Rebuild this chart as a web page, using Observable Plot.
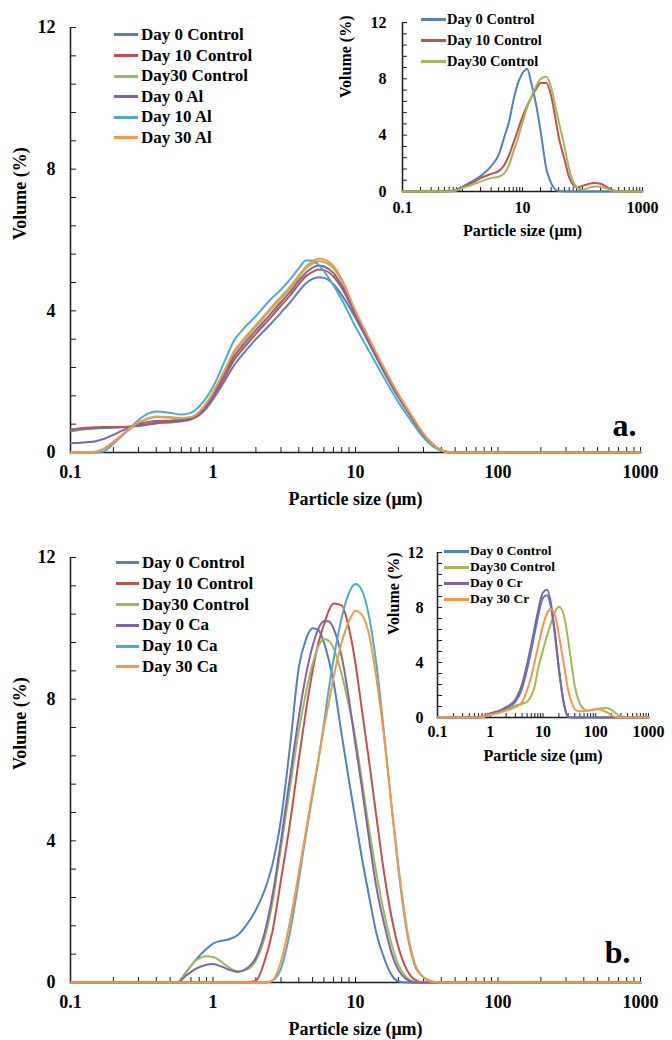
<!DOCTYPE html>
<html><head><meta charset="utf-8">
<script src="https://cdn.jsdelivr.net/npm/d3@7"></script>
<script src="https://cdn.jsdelivr.net/npm/@observablehq/plot@0.6"></script>
<style>
body{margin:0;background:#fff;}
#root{position:relative;width:672px;height:1040px;overflow:hidden;font-family:"Liberation Serif","Times New Roman",serif;font-weight:bold;color:#000;background:#fff;}
.panel{position:absolute;}
.panel svg{overflow:visible;background:transparent;}
.legend{position:absolute;font-family:"Liberation Serif","Times New Roman",serif;font-weight:bold;}
.legend .row{display:flex;align-items:center;white-space:nowrap;}
.legend .sw{display:inline-block;flex:none;}
</style></head><body><div id="root"></div>
<script>
// ---------- tick labels ----------
const yTickLabels = [0, 4, 8, 12];
const xTickLabelsMain = [0.1, 1, 10, 100, 1000];
const xTickLabelsInsetA = [0.1, 10, 1000];
const xTickLabelsInsetB = [0.1, 1, 10, 100, 1000];
const xTitle = "Particle size (μm)";
const yTitle = "Volume (%)";

// ---------- panel a (main) ----------
const sizesA = [0.1, 0.13, 0.15, 0.17, 0.2, 0.25, 0.3, 0.35, 0.4, 0.5, 0.6, 0.7, 0.8, 0.9, 1, 1.2, 1.4, 1.6, 2, 2.5, 3, 3.5, 4, 4.5, 5, 5.5, 6, 7, 8, 10, 12, 15, 20, 25, 30, 35, 40, 45, 50, 1000];
const namesA = ["Day 0 Control", "Day 10 Control", "Day30 Control", "Day 0 Al", "Day 10 Al", "Day 30 Al"];
const aDay0Control  = [0.6,0.66,0.68,0.69,0.7,0.72,0.75,0.79,0.82,0.85,0.88,0.93,1.05,1.25,1.5,2.0,2.45,2.75,3.2,3.6,3.95,4.25,4.55,4.78,4.9,4.95,4.93,4.75,4.45,3.8,3.2,2.45,1.55,0.95,0.48,0.2,0.06,0.01,0,0];
const aDay10Control = [0.65,0.7,0.71,0.72,0.72,0.73,0.76,0.8,0.84,0.87,0.9,0.95,1.08,1.3,1.58,2.1,2.6,2.9,3.35,3.78,4.15,4.45,4.75,4.98,5.1,5.17,5.15,4.97,4.65,3.88,3.25,2.5,1.6,0.98,0.5,0.21,0.06,0.01,0,0];
const aDay30Control = [0,0,0.02,0.1,0.3,0.6,0.83,0.95,1.0,0.98,0.95,0.98,1.13,1.37,1.67,2.27,2.8,3.1,3.55,4.0,4.35,4.65,4.95,5.2,5.33,5.4,5.38,5.2,4.85,3.95,3.3,2.55,1.62,1.0,0.52,0.22,0.07,0.01,0,0];
const aDay0Al       = [0.26,0.29,0.32,0.38,0.5,0.68,0.8,0.86,0.89,0.9,0.92,0.97,1.1,1.33,1.62,2.2,2.7,3.0,3.45,3.88,4.25,4.55,4.85,5.08,5.22,5.28,5.25,5.07,4.72,3.92,3.28,2.52,1.6,0.98,0.5,0.21,0.06,0.01,0,0];
const aDay10Al      = [0,0,0,0.03,0.25,0.62,0.92,1.1,1.16,1.12,1.07,1.12,1.3,1.55,1.85,2.55,3.15,3.45,3.85,4.3,4.6,4.9,5.2,5.42,5.42,5.3,5.12,4.72,4.32,3.55,2.98,2.28,1.42,0.85,0.42,0.17,0.05,0.01,0,0];
const aDay30Al      = [0,0,0.02,0.1,0.3,0.62,0.85,0.97,1.02,1.0,0.97,1.0,1.15,1.4,1.7,2.3,2.85,3.15,3.6,4.05,4.4,4.7,5.0,5.25,5.4,5.47,5.45,5.27,4.9,4.0,3.35,2.58,1.65,1.02,0.53,0.23,0.07,0.01,0,0];

// ---------- panel b (main) ----------
const sizesB = [0.1, 0.5, 0.56, 0.65, 0.75, 0.9, 1, 1.15, 1.3, 1.5, 1.7, 2, 2.3, 2.6, 3, 3.5, 4, 4.5, 5, 5.5, 6, 6.5, 7, 8, 9, 10, 11, 12.5, 14, 16, 18, 20, 23, 26, 30, 35, 40, 1000];
const namesB = ["Day 0 Control", "Day 10 Control", "Day30 Control", "Day 0 Ca", "Day 10 Ca", "Day 30 Ca"];
const bDay0Control  = [0,0,0,0.3,0.62,0.95,1.1,1.18,1.22,1.35,1.6,2.05,2.6,3.3,4.6,6.8,8.9,9.7,10.0,9.95,9.6,9.1,8.5,7.0,5.7,4.6,3.6,2.4,1.4,0.65,0.2,0.03,0,0,0,0,0,0];
const bDay10Control = [0,0,0,0,0,0,0,0,0,0,0,0.05,0.6,1.4,2.9,4.6,6.3,7.7,8.8,9.6,10.1,10.5,10.7,10.65,10.0,9.0,7.8,6.2,4.7,3.0,1.8,1.0,0.35,0.08,0,0,0,0];
const bDay30Control = [0,0,0,0.3,0.6,0.74,0.72,0.58,0.42,0.32,0.35,0.62,1.25,2.2,3.8,5.6,7.1,8.2,9.0,9.5,9.7,9.65,9.45,8.7,7.8,6.9,5.8,4.3,3.1,1.9,1.05,0.5,0.13,0.02,0,0,0,0];
const bDay0Ca       = [0,0,0,0.2,0.38,0.5,0.52,0.45,0.36,0.3,0.38,0.7,1.4,2.4,4.0,5.9,7.5,8.7,9.5,10.0,10.2,10.2,10.0,9.2,8.0,6.7,5.6,4.0,2.7,1.6,0.8,0.35,0.08,0,0,0,0,0];
const bDay10Ca      = [0,0,0,0,0,0,0,0,0,0,0,0,0,0.05,0.4,1.5,2.9,4.2,5.3,6.3,7.3,8.3,9.1,10.3,11.0,11.25,11.1,10.3,9.0,6.9,4.9,3.2,1.4,0.5,0.15,0.02,0,0];
const bDay30Ca      = [0,0,0,0,0,0,0,0,0,0,0,0,0,0.05,0.6,1.8,3.1,4.3,5.4,6.3,7.2,7.9,8.6,9.6,10.2,10.5,10.4,9.8,8.6,6.8,4.9,3.3,1.5,0.55,0.15,0.02,0,0];

// ---------- inset of panel a ----------
const sizesIA = [0.1, 0.5, 0.7, 1, 1.5, 2, 3, 4, 5, 6, 7, 8, 10, 12, 14, 17, 20, 25, 30, 35, 40, 50, 60, 80, 100, 130, 160, 200, 250, 300, 400, 1000];
const namesIA = ["Day 0 Control", "Day 10 Control", "Day30 Control"];
const iaDay0Control  = [0,0,0.05,0.35,0.75,1.1,1.8,2.6,3.9,5.0,6.4,7.4,8.4,8.7,7.7,6.1,4.3,1.6,0.6,0.15,0.03,0,0,0,0,0,0,0,0,0,0,0];
const iaDay10Control = [0,0,0.03,0.3,0.65,0.95,1.25,1.45,1.9,2.6,3.4,4.1,5.3,6.1,6.7,7.3,7.7,7.7,6.8,5.3,3.9,2.3,1.0,0.3,0.4,0.55,0.6,0.55,0.35,0.15,0,0];
const iaDay30Control = [0,0,0.02,0.25,0.5,0.7,0.95,1.05,1.3,1.9,2.8,3.5,4.9,6.0,6.7,7.5,8.0,8.15,7.4,6.1,5.0,3.2,1.6,0.3,0.12,0.28,0.35,0.33,0.22,0.08,0,0];

// ---------- inset of panel b ----------
const sizesIB = [0.1, 0.5, 0.65, 0.8, 1, 1.5, 2, 3, 4, 5, 6, 7, 8, 10, 12, 14, 17, 20, 25, 30, 35, 40, 50, 60, 70, 80, 100, 130, 160, 200, 250, 300, 1000];
const namesIB = ["Day 0 Control", "Day30 Control", "Day 0 Cr", "Day 30 Cr"];
const ibDay0Control  = [0,0,0,0.1,0.25,0.45,0.65,1.15,2.1,3.5,4.9,6.2,7.3,8.7,8.9,8.1,5.9,3.5,0.95,0.05,0,0,0,0,0,0,0,0,0,0,0,0,0];
const ibDay30Control = [0,0,0,0.08,0.2,0.38,0.55,0.85,1.0,1.15,1.6,2.3,3.5,4.9,6.0,6.8,7.7,8.05,7.4,5.6,3.8,2.3,1.0,0.6,0.5,0.52,0.6,0.68,0.7,0.55,0.25,0.05,0];
const ibDay0Cr       = [0,0,0,0.12,0.3,0.5,0.75,1.3,2.4,3.9,5.3,6.6,7.7,9.1,9.3,8.4,6.0,3.6,1.0,0.05,0,0,0,0,0,0,0,0,0,0,0,0,0];
const ibDay30Cr      = [0,0,0,0.1,0.2,0.35,0.5,0.75,1.1,2.0,3.0,4.1,5.1,6.7,7.6,7.9,7.4,6.0,3.8,2.0,1.1,0.6,0.45,0.45,0.5,0.55,0.6,0.55,0.4,0.15,0.02,0,0];

// ---------- styling ----------
const C = {blue:"#4F81BD", red:"#C0504D", green:"#9BBB59", purple:"#8064A2", cyan:"#4BACC6", orange:"#F79646"};
const FONT = '"Liberation Serif","Times New Roman",serif';
const AXIS = "#1a1a1a";

const root = document.getElementById("root");

function mk(sizes, list) {
  return list.map(([name, values, color]) => ({name, color, rows: sizes.map((x, i) => ({size: x, value: values[i]}))}));
}
function minorLogTicks() {
  const t = [];
  for (const d of [0.1, 1, 10, 100]) for (let m = 1; m < 10; m++) t.push(+(d * m).toPrecision(3));
  t.push(1000);
  return t;
}
const xMinor = minorLogTicks();
const yMinor = d3.range(0, 12.0001, 0.8).map(v => +v.toFixed(1));

function panel(o) {
  const marks = [
    Plot.axisY(yMinor, {tickSize: o.tick, dx: o.tick, tickFormat: () => "", label: null, stroke: AXIS}),
    Plot.axisX(xMinor, {tickSize: o.xtick, dy: -o.xtick, tickFormat: () => "", label: null, stroke: AXIS}),
    Plot.ruleY([0], {stroke: AXIS, strokeWidth: 1.5}),
    Plot.ruleX([0.1], {stroke: AXIS, strokeWidth: 1.5}),
    ...o.series.map(s => Plot.line(s.rows, {x: "size", y: "value", stroke: s.color, strokeWidth: o.sw, curve: "monotone-x"})),
    Plot.axisY(yTickLabels, {tickSize: 0, tickPadding: o.yPad, tickFormat: d => String(d), label: null, fontSize: o.fs, fontWeight: "bold"}),
    Plot.axisX(o.xLabels, {tickSize: 0, tickPadding: o.xPad, tickFormat: d => String(d), label: null, fontSize: o.fs, fontWeight: "bold"}),
    Plot.text([xTitle], {frameAnchor: "bottom", dy: o.titleDy, fontSize: o.fs, fontWeight: "bold", lineAnchor: "middle", fill: "#000"}),
    Plot.text([yTitle], {frameAnchor: "left", dx: o.volDx, dy: o.volDy || 0, rotate: -90, fontSize: o.fs, fontWeight: "bold", lineAnchor: "middle", fill: "#000"})
  ];
  if (o.letter) marks.push(Plot.text([o.letter], {frameAnchor: "bottom-right", dx: o.letterDx, dy: o.letterDy, textAnchor: "end", lineAnchor: "middle", fontSize: 32, fontWeight: "bold", fill: "#000"}));
  const svg = Plot.plot({
    width: o.width, height: o.height,
    marginTop: o.mt, marginBottom: o.mb, marginLeft: o.ml, marginRight: o.mr,
    x: {type: "log", domain: [0.1, 1000], label: null},
    y: {domain: [0, 12], label: null},
    style: {fontFamily: FONT, fontWeight: "bold", fontSize: o.fs + "px", color: "#000", background: "transparent", overflow: "visible"},
    marks
  });
  const wrap = document.createElement("div");
  wrap.className = "panel";
  wrap.style.left = o.left + "px";
  wrap.style.top = o.top + "px";
  wrap.appendChild(svg);
  root.appendChild(wrap);
}

function legend(series, o) {
  const div = document.createElement("div");
  div.className = "legend";
  div.style.left = o.left + "px";
  div.style.top = o.top + "px";
  div.style.fontSize = o.fs + "px";
  for (const s of series) {
    const row = document.createElement("div");
    row.className = "row";
    row.style.height = o.rowH + "px";
    const sw = document.createElement("span");
    sw.className = "sw";
    sw.style.width = o.lineW + "px";
    sw.style.height = "3px";
    sw.style.background = s.color;
    const tx = document.createElement("span");
    tx.textContent = s.name;
    tx.style.marginLeft = o.gap + "px";
    row.appendChild(sw); row.appendChild(tx);
    div.appendChild(row);
  }
  root.appendChild(div);
}

const seriesA = mk(sizesA, [[namesA[0], aDay0Control, C.blue], [namesA[1], aDay10Control, C.red], [namesA[2], aDay30Control, C.green], [namesA[3], aDay0Al, C.purple], [namesA[4], aDay10Al, C.cyan], [namesA[5], aDay30Al, C.orange]]);
const seriesB = mk(sizesB, [[namesB[0], bDay0Control, C.blue], [namesB[1], bDay10Control, C.red], [namesB[2], bDay30Control, C.green], [namesB[3], bDay0Ca, C.purple], [namesB[4], bDay10Ca, C.cyan], [namesB[5], bDay30Ca, C.orange]]);
const seriesIA = mk(sizesIA, [[namesIA[0], iaDay0Control, C.blue], [namesIA[1], iaDay10Control, C.red], [namesIA[2], iaDay30Control, C.green]]);
const seriesIB = mk(sizesIB, [[namesIB[0], ibDay0Control, C.blue], [namesIB[1], ibDay30Control, C.green], [namesIB[2], ibDay0Cr, C.purple], [namesIB[3], ibDay30Cr, C.orange]]);

const mainOpts = {width: 672, height: 507, mt: 27, mb: 55, ml: 70, mr: 32, fs: 18, tick: 6, xtick: 5, sw: 2, yPad: 15, xPad: 13, titleDy: 47, volDx: -50, xLabels: xTickLabelsMain, left: 0};
panel({...mainOpts, top: 0, series: seriesA, letter: "a.", letterDx: -4, letterDy: -27});
panel({...mainOpts, top: 530, series: seriesB, letter: "b.", letterDx: -10, letterDy: -30});
panel({width: 330, height: 240, mt: 22, mb: 49, ml: 72, mr: 18, fs: 16, tick: 5, xtick: 4, sw: 2, yPad: 16, xPad: 10, titleDy: 39, volDx: -57, volDy: -9, xLabels: xTickLabelsInsetA, left: 330, top: 0, series: seriesIA});
panel({width: 295, height: 235, mt: 22, mb: 48, ml: 67, mr: 17, fs: 16, tick: 5, xtick: 4, sw: 2, yPad: 14, xPad: 8, titleDy: 38, volDx: -44, xLabels: xTickLabelsInsetB, left: 370, top: 530, series: seriesIB});

legend(seriesA, {left: 114, top: 24.7, rowH: 20.6, lineW: 24, gap: 3, fs: 17});
legend(seriesB, {left: 116, top: 552.6, rowH: 20.8, lineW: 23, gap: 3, fs: 17});
legend(seriesIA, {left: 421, top: 8.5, rowH: 21, lineW: 25, gap: 1, fs: 14.5});
legend(seriesIB, {left: 444, top: 543, rowH: 16, lineW: 25, gap: 1, fs: 13.5});
</script></body></html>
